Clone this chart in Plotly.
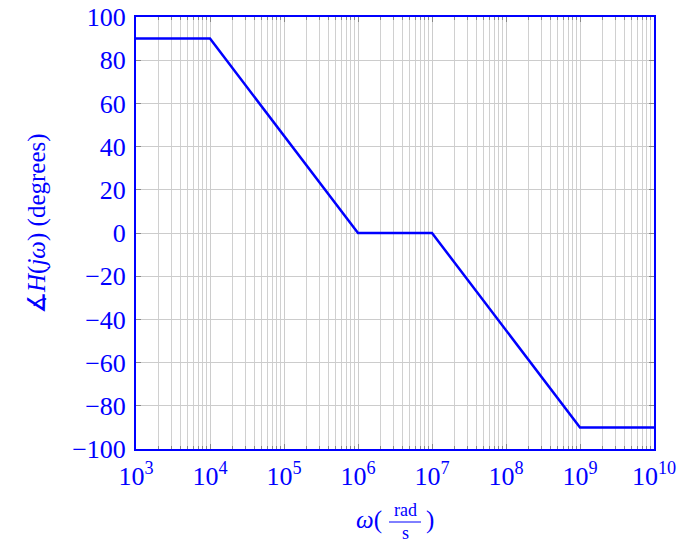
import plotly.graph_objects as go

# Data
omega = [1e3, 1e4, 1e6, 1e7, 1e9, 1e10]
phase_deg = [90, 90, 0, 0, -90, -90]
x_tick_vals = [1e3, 1e4, 1e5, 1e6, 1e7, 1e8, 1e9, 1e10]
x_tick_text = ["10<sup>3</sup>", "10<sup>4</sup>", "10<sup>5</sup>", "10<sup>6</sup>",
               "10<sup>7</sup>", "10<sup>8</sup>", "10<sup>9</sup>", "10<sup>10</sup>"]
x_minor_vals = [m * 10 ** e for e in range(3, 10) for m in range(2, 10)]
y_tick_vals = [-100, -80, -60, -40, -20, 0, 20, 40, 60, 80, 100]

BLUE = "#0000ff"
FONT = "Liberation Serif"
L, R, T, B = 136, 26, 17, 94
W, H = 680, 543
pw, ph = W - L - R, H - T - B

fig = go.Figure()
fig.add_trace(go.Scatter(x=omega, y=phase_deg, mode="lines",
                         line=dict(color=BLUE, width=2.5),
                         showlegend=False))

fig.update_layout(
    width=W, height=H,
    margin=dict(l=L, r=R, t=T, b=B),
    paper_bgcolor="white", plot_bgcolor="white",
    font=dict(family=FONT, color=BLUE, size=22),
    xaxis=dict(type="log", range=[3, 10], tickvals=x_tick_vals, ticktext=x_tick_text,
               automargin=False, ticklabelstandoff=3,
               showline=True, mirror="ticks", linecolor=BLUE, linewidth=2,
               ticks="inside", ticklen=5, tickcolor="#888", tickwidth=1,
               showgrid=True, gridcolor="#cccccc", gridwidth=1,
               minor=dict(tickmode="array", tickvals=x_minor_vals,
                          ticks="inside", ticklen=3, tickcolor="#888", showgrid=True,
                          gridcolor="#d0d0d0", gridwidth=1),
               tickfont=dict(size=26, color=BLUE, family=FONT),
               zeroline=False),
    yaxis=dict(range=[-100, 100], tickvals=y_tick_vals, automargin=False,
               ticklabelstandoff=3,
               showline=True, mirror="ticks", linecolor=BLUE, linewidth=2,
               ticks="inside", ticklen=5, tickcolor="#888", tickwidth=1,
               showgrid=True, gridcolor="#cccccc", gridwidth=1,
               tickfont=dict(size=26, color=BLUE, family=FONT),
               zeroline=False),
)

def px(xp):
    return (xp - L) / pw

def py(yp):
    return (H - B - yp) / ph

# y-axis title
fig.add_annotation(x=px(37), y=py(224), xref="paper", yref="paper",
                   text="∡<i>H</i>(<i>j</i><i>ω</i>) (degrees)", textangle=-90,
                   showarrow=False, xanchor="center", yanchor="middle",
                   font=dict(size=25, color=BLUE, family=FONT))

# x-axis title built with annotations: ω( rad/s )
fig.add_annotation(x=px(384), y=py(520), xref="paper", yref="paper",
                   text="<i>ω</i>(", showarrow=False, xanchor="right", yanchor="middle",
                   font=dict(size=25, color=BLUE, family=FONT))
fig.add_annotation(x=px(405), y=py(510), xref="paper", yref="paper",
                   text="rad", showarrow=False, xanchor="center", yanchor="middle",
                   font=dict(size=18, color=BLUE, family=FONT))
fig.add_annotation(x=px(405), y=py(533), xref="paper", yref="paper",
                   text="s", showarrow=False, xanchor="center", yanchor="middle",
                   font=dict(size=18, color=BLUE, family=FONT))
fig.add_shape(type="line", xref="paper", yref="paper",
              x0=px(389), x1=px(421), y0=py(522), y1=py(522),
              line=dict(color=BLUE, width=1))
fig.add_annotation(x=px(424), y=py(520), xref="paper", yref="paper",
                   text=")", showarrow=False, xanchor="left", yanchor="middle",
                   font=dict(size=25, color=BLUE, family=FONT))

fig.write_html("out.html")
